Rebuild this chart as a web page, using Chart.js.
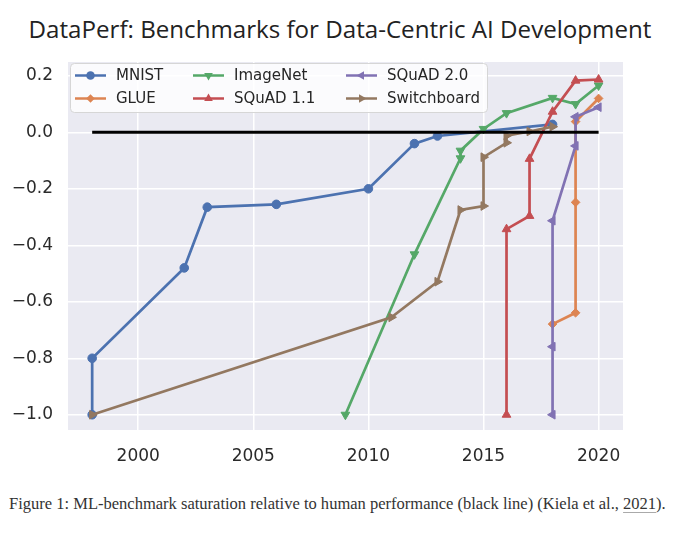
<!DOCTYPE html>
<html>
<head>
<meta charset="utf-8">
<title>DataPerf benchmark saturation</title>
<script src="https://cdn.jsdelivr.net/npm/chart.js@4.4.1/dist/chart.umd.min.js"></script>
<style>
  html, body { margin: 0; padding: 0; background: #fff; width: 680px; height: 535px; overflow: hidden; }
  #title {
    position: absolute; left: 0; top: 12px; width: 680px; text-align: center;
    font-family: "Open Sans", sans-serif; font-size: 24px; line-height: 33px;
    color: #222; white-space: nowrap;
  }
  #titleText { display: inline-block; }
  #chartBox { position: absolute; left: 0; top: 50px; width: 680px; height: 425px; }
  #caption {
    position: absolute; left: 9px; top: 495px;
    font-family: "Liberation Serif", serif; font-size: 15px; line-height: 17px;
    color: #333; white-space: nowrap;
  }
  #caption .ref { text-decoration: underline; text-decoration-color: #aaa; text-underline-offset: 3px; }
</style>
</head>
<body>
<div id="title"><span id="titleText">DataPerf: Benchmarks for Data-Centric AI Development</span></div>
<div id="chartBox"><canvas id="myChart" width="680" height="425"></canvas></div>
<div id="caption"><span id="captionText">Figure 1: ML-benchmark saturation relative to human performance (black line) (Kiela et al., <span class="ref">2021</span>).</span></div>
<script>
// Benchmark series (year, score relative to human performance)
const mnistYears = [1998, 1998, 2002, 2003, 2006, 2010, 2012, 2013, 2018];
const mnistScores = [-1.0, -0.8, -0.48, -0.265, -0.255, -0.2, -0.04, -0.013, 0.028];

const glueYears = [2018, 2019, 2019, 2019, 2020];
const glueScores = [-0.679, -0.639, -0.248, 0.038, 0.12];

const imagenetYears = [2009, 2012, 2014, 2014, 2015, 2016, 2018, 2019, 2020];
const imagenetScores = [-1.0, -0.432, -0.092, -0.065, 0.012, 0.068, 0.122, 0.1, 0.166];

const squad11Years = [2016, 2016, 2017, 2017, 2018, 2019, 2020];
const squad11Scores = [-1.0, -0.343, -0.296, -0.094, 0.073, 0.183, 0.187];

const squad20Years = [2018, 2018, 2018, 2019, 2019, 2020];
const squad20Scores = [-1.0, -0.759, -0.313, -0.048, 0.055, 0.089];

const switchboardYears = [1998, 2011, 2013, 2014, 2015, 2015, 2016, 2016, 2017, 2018];
const switchboardScores = [-1.0, -0.655, -0.529, -0.275, -0.261, -0.088, -0.037, -0.012, 0.003, 0.02];

// Human performance reference line
const humanYears = [1998, 2020];
const humanScores = [0, 0];

// Tick labels
const xTicks = [2000, 2005, 2010, 2015, 2020];
const yTicks = [-1.0, -0.8, -0.6, -0.4, -0.2, 0.0, 0.2];

function toPoints(xs, ys) {
  return xs.map((x, i) => ({ x: x, y: ys[i] }));
}

function series(label, xs, ys, color, style, rotation, radius, order) {
  return {
    label: label,
    data: toPoints(xs, ys),
    showLine: true,
    borderColor: color,
    backgroundColor: color,
    borderWidth: 2.7,
    pointStyle: style,
    rotation: rotation,
    pointRadius: radius,
    pointBorderWidth: 1,
    pointBorderColor: color,
    pointBackgroundColor: color,
    order: order,
  };
}

const datasets = [
  series("MNIST", mnistYears, mnistScores, "#4C72B0", "circle", 0, 4.3, 6),
  series("GLUE", glueYears, glueScores, "#DD8452", "rectRot", 0, 4.3, 5),
  series("ImageNet", imagenetYears, imagenetScores, "#55A868", "triangle", 180, 5, 4),
  series("SQuAD 1.1", squad11Years, squad11Scores, "#C44E52", "triangle", 0, 5, 3),
  series("SQuAD 2.0", squad20Years, squad20Scores, "#8172B3", "triangle", -90, 5, 2),
  series("Switchboard", switchboardYears, switchboardScores, "#937860", "triangle", 90, 5, 1),
  {
    label: "Human",
    data: toPoints(humanYears, humanScores),
    showLine: true,
    borderColor: "#000",
    borderWidth: 3,
    pointRadius: 0,
    order: 0,
  },
];

// Plot area background (seaborn darkgrid look)
const plotBackground = {
  id: "plotBackground",
  beforeDraw(chart) {
    const { ctx, chartArea } = chart;
    ctx.save();
    ctx.fillStyle = "#EAEAF2";
    ctx.fillRect(chartArea.left, chartArea.top, chartArea.width, chartArea.height);
    ctx.restore();
  },
};

function drawMarker(ctx, style, rotation, r, x, y, color) {
  ctx.save();
  ctx.fillStyle = color;
  ctx.beginPath();
  if (style === "circle") {
    ctx.arc(x, y, r, 0, Math.PI * 2);
  } else {
    let rad = (rotation * Math.PI) / 180;
    const n = style === "rectRot" ? 4 : 3;
    const step = (Math.PI * 2) / n;
    for (let i = 0; i < n; i++) {
      const px = x + Math.sin(rad) * r;
      const py = y - Math.cos(rad) * r;
      if (i === 0) ctx.moveTo(px, py);
      else ctx.lineTo(px, py);
      rad += step;
    }
    ctx.closePath();
  }
  ctx.fill();
  ctx.restore();
}

// Legend drawn inside the plot, three columns like the matplotlib original
const insideLegend = {
  id: "insideLegend",
  afterDraw(chart) {
    const ctx = chart.ctx;
    const box = { x: 70.5, y: 13.5, w: 417, h: 49 };
    const colX = [75, 193, 346];
    const rowY = [25.5, 48.5];
    ctx.save();
    ctx.fillStyle = "rgba(255,255,255,0.82)";
    ctx.strokeStyle = "#d6d6d6";
    ctx.lineWidth = 1;
    ctx.beginPath();
    ctx.roundRect(box.x, box.y, box.w, box.h, 4);
    ctx.fill();
    ctx.stroke();

    ctx.font = "15px 'DejaVu Sans'";
    ctx.textBaseline = "middle";
    for (let i = 0; i < 6; i++) {
      const ds = chart.data.datasets[i];
      const col = Math.floor(i / 2);
      const row = i % 2;
      const x0 = colX[col];
      const y0 = rowY[row];
      ctx.strokeStyle = ds.borderColor;
      ctx.lineWidth = 2.5;
      ctx.beginPath();
      ctx.moveTo(x0, y0);
      ctx.lineTo(x0 + 31, y0);
      ctx.stroke();
      drawMarker(ctx, ds.pointStyle, ds.rotation, ds.pointRadius, x0 + 15.5, y0, ds.borderColor);
      ctx.fillStyle = "#262626";
      ctx.fillText(ds.label, x0 + 41, y0 + 1);
    }
    ctx.restore();
  },
};

const tickFont = { family: "DejaVu Sans", size: 17 };

const config = {
  type: "scatter",
  data: { datasets: datasets },
  options: {
    responsive: false,
    animation: false,
    layout: { padding: { left: 8, right: 57, top: 12, bottom: 11 } },
    plugins: {
      legend: { display: false },
      tooltip: { enabled: false },
      title: { display: false },
    },
    scales: {
      x: {
        type: "linear",
        min: 1996.95,
        max: 2021.06,
        afterBuildTicks: (scale) => {
          scale.ticks = xTicks.map((v) => ({ value: v }));
        },
        afterFit: (scale) => {
          scale.height = 34;
          scale.paddingLeft = 0;
          scale.paddingRight = 0;
        },
        grid: { color: "#ffffff", lineWidth: 1.5, drawTicks: false },
        border: { display: false },
        ticks: {
          font: tickFont,
          color: "#2a2a2a",
          padding: 16,
          maxRotation: 0,
          callback: (v) => String(v),
        },
      },
      y: {
        type: "linear",
        min: -1.054,
        max: 0.249,
        afterBuildTicks: (scale) => {
          scale.ticks = yTicks.map((v) => ({ value: v }));
        },
        afterFit: (scale) => {
          scale.width = 60;
          scale.paddingTop = 0;
          scale.paddingBottom = 0;
        },
        grid: { color: "#ffffff", lineWidth: 1.5, drawTicks: false },
        border: { display: false },
        ticks: {
          font: tickFont,
          color: "#2a2a2a",
          padding: 15,
          callback: (v) => (v < 0 ? "\u2212" + Math.abs(v).toFixed(1) : v.toFixed(1)),
        },
      },
    },
  },
  plugins: [plotBackground, insideLegend],
};

const ctx = document.getElementById("myChart");
const myChart = new Chart(ctx, config);

// Fit title and caption widths to the original figure
function fitWidth(el, target) {
  const size = parseFloat(getComputedStyle(el).fontSize);
  const w = el.getBoundingClientRect().width;
  if (w > 0) el.style.fontSize = (size * target) / w + "px";
}
fitWidth(document.getElementById("titleText"), 623);
fitWidth(document.getElementById("captionText"), 657);
</script>
</body>
</html>
